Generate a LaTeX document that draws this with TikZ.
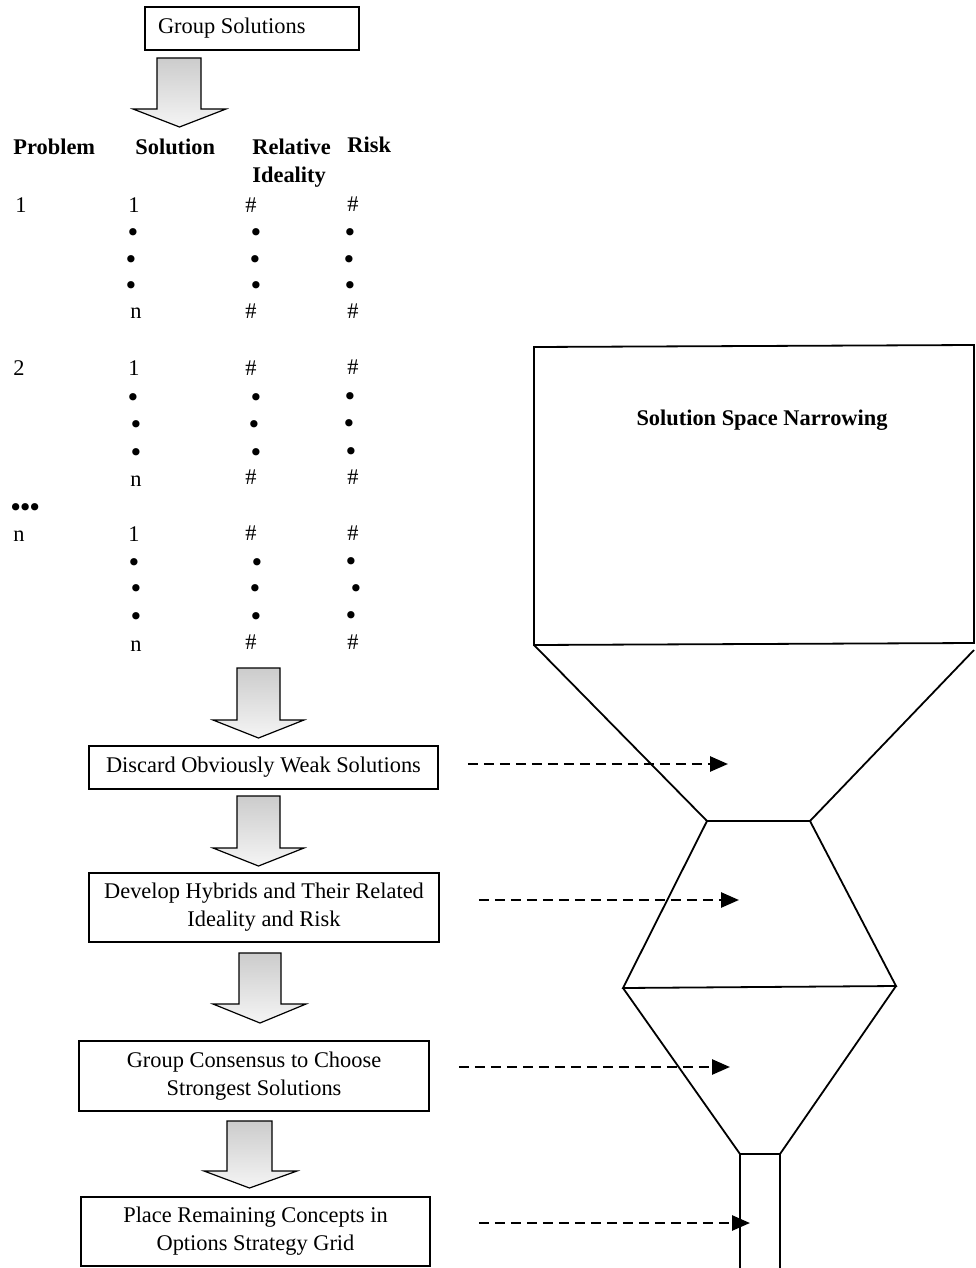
\documentclass[tikz,border=0pt]{standalone}
\usepackage{fontspec}
\setmainfont{Liberation Serif}
\newfontfamily\bulfont{DejaVu Sans}
\usetikzlibrary{arrows.meta}
\begin{document}
\begin{tikzpicture}[x=0.5pt,y=-0.5pt,
  every node/.style={font=\fontsize{11.2}{14}\selectfont, inner sep=0pt},
  stepbox/.style={draw, line width=0.9pt, align=center},
  txt/.style={anchor=base west},
  hdr/.style={anchor=base west, font=\fontsize{11.2}{14}\selectfont\bfseries},
  dot/.style={anchor=base, font=\bulfont\fontsize{12.5}{13}\selectfont, text height=7pt, text depth=0pt},
  blockarrow/.style={draw, line width=0.6pt, top color=black!20, bottom color=black!4, line join=miter},
  dasharrow/.style={dash pattern=on 5pt off 3pt, line width=1.3pt, -{Triangle[length=9pt,width=7.5pt]}},
  funnel/.style={line width=0.9pt, line join=miter}]
\useasboundingbox (0,0) rectangle (975,1268);

% ---- top box
\node[stepbox, minimum width=107pt, minimum height=21.5pt] (gs) at (252,28.5) {\makebox[94pt][l]{Group Solutions}};

% ---- block arrow 1
\draw[blockarrow] (157,58) -- (201,58) -- (201,109) -- (226,109) -- (179.5,127) -- (133,109) -- (157,109) -- cycle;

% ---- table header
\node[hdr] (hp) at (13,155) {Problem};
\node[hdr] (hs) at (135,155) {Solution};
\node[hdr] (hr) at (252,155) {Relative};
\node[hdr] (hi) at (252,182) {Ideality};
\node[hdr] (hk) at (347,153) {Risk};

% ---- group 1
\node[txt] (p1) at (15,212) {1};
\node[txt] (s1a) at (128,212) {1};
\node[txt] (r1a) at (245,212) {\#};
\node[txt] (k1a) at (347,211) {\#};
\node[dot] (s1b) at (133,241) {•};
\node[dot] (r1b) at (256,241) {•};
\node[dot] (k1b) at (350,241) {•};
\node[dot] (s1c) at (131,268) {•};
\node[dot] (r1c) at (255,268) {•};
\node[dot] (k1c) at (349,268) {•};
\node[dot] (s1d) at (131,294) {•};
\node[dot] (r1d) at (256,294) {•};
\node[dot] (k1d) at (350,294) {•};
\node[txt] (s1e) at (130,318) {n};
\node[txt] (r1e) at (245,318) {\#};
\node[txt] (k1e) at (347,318) {\#};

% ---- group 2
\node[txt] (p2) at (13,375) {2};
\node[txt] (s2a) at (128,375) {1};
\node[txt] (r2a) at (245,375) {\#};
\node[txt] (k2a) at (347,374) {\#};
\node[dot] (s2b) at (133,406) {•};
\node[dot] (r2b) at (256,406) {•};
\node[dot] (k2b) at (350,405) {•};
\node[dot] (s2c) at (136,433) {•};
\node[dot] (r2c) at (254,433) {•};
\node[dot] (k2c) at (349,432) {•};
\node[dot] (s2d) at (136,461) {•};
\node[dot] (r2d) at (256,461) {•};
\node[dot] (k2d) at (351,460) {•};
\node[txt] (s2e) at (130,486) {n};
\node[txt] (r2e) at (245,484) {\#};
\node[txt] (k2e) at (347,484) {\#};

% ---- ellipsis
\node[txt, font=\bulfont\fontsize{12.5}{13}\selectfont, text height=7pt, text depth=0pt] (pe) at (8,516) {•\kern-2.6pt•\kern-2.6pt•};

% ---- group n
\node[txt] (pn) at (13,541) {n};
\node[txt] (sna) at (128,541) {1};
\node[txt] (rna) at (245,540) {\#};
\node[txt] (kna) at (347,540) {\#};
\node[dot] (snb) at (134,571) {•};
\node[dot] (rnb) at (257,571) {•};
\node[dot] (knb) at (351,570) {•};
\node[dot] (snc) at (136,597) {•};
\node[dot] (rnc) at (255,597) {•};
\node[dot] (knc) at (356,597) {•};
\node[dot] (snd) at (136,625) {•};
\node[dot] (rnd) at (256,625) {•};
\node[dot] (knd) at (351,624) {•};
\node[txt] (sne) at (130,651) {n};
\node[txt] (rne) at (245,649) {\#};
\node[txt] (kne) at (347,649) {\#};

% ---- block arrow 2
\draw[blockarrow] (237,668) -- (280,668) -- (280,720) -- (304,720) -- (258.5,738) -- (213,720) -- (237,720) -- cycle;

% ---- steps
\node[stepbox, minimum width=174.5pt, minimum height=21.5pt] (d1) at (263.5,767.5) {Discard Obviously Weak Solutions};

\draw[blockarrow] (237,796) -- (280,796) -- (280,848) -- (304,848) -- (258.5,866) -- (213,848) -- (237,848) -- cycle;

\node[stepbox, minimum width=175pt, minimum height=34.5pt] (d2) at (264,907.5) {Develop Hybrids and Their Related\\Ideality and Risk};

\draw[blockarrow] (239,953) -- (281,953) -- (281,1004) -- (306,1004) -- (260,1023) -- (213,1004) -- (239,1004) -- cycle;

\node[stepbox, minimum width=175pt, minimum height=35pt] (d3) at (254,1076) {Group Consensus to Choose\\Strongest Solutions};

\draw[blockarrow] (227,1121) -- (272,1121) -- (272,1171) -- (297,1171) -- (249.5,1188) -- (204,1171) -- (227,1171) -- cycle;

\node[stepbox, minimum width=174.5pt, minimum height=34.5pt] (d4) at (255.5,1231.5) {Place Remaining Concepts in\\Options Strategy Grid};

% ---- funnel
\draw[funnel] (534,645) -- (534,347) -- (974,345) -- (974,643) -- cycle;
\node[font=\fontsize{11.2}{14}\selectfont\bfseries] (ssn) at (762,420) {Solution Space Narrowing};
\draw[funnel] (534,645) -- (707,821) -- (810,821) -- (974,650);
\draw[funnel] (707,821) -- (623,988) -- (896,986) -- (810,821);
\draw[funnel] (623,988) -- (740,1154) -- (780,1154) -- (896,986);
\draw[funnel] (740,1154) -- (740,1270);
\draw[funnel] (780,1154) -- (780,1270);

% ---- dashed arrows
\coordinate (e1) at (728,764);
\coordinate (e2) at (739,900);
\coordinate (e3) at (730,1067);
\coordinate (e4) at (750,1223);
\draw[dasharrow] ([xshift=14.5pt]d1.east |- e1) -- (e1);
\draw[dasharrow] ([xshift=19.5pt]d2.east |- e2) -- (e2);
\draw[dasharrow] ([xshift=14.5pt]d3.east |- e3) -- (e3);
\draw[dasharrow] ([xshift=24pt]d4.east |- e4) -- (e4);
\end{tikzpicture}
\end{document}
